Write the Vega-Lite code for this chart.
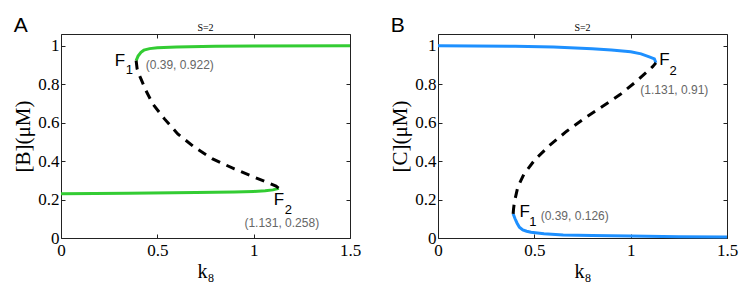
{
  "$schema": "https://vega.github.io/schema/vega-lite/v6.json",
  "background": "white",
  "padding": {"left": 12, "top": 15, "right": 5, "bottom": 5},
  "spacing": 28,
  "config": {"view": {"stroke": null}, "font": "Liberation Serif"},
  "datasets": {
    "curves": [
      {"panel": "A", "branch": "stable_hi", "k8": 0.39, "conc": 0.922},
      {"panel": "A", "branch": "stable_hi", "k8": 0.4, "conc": 0.945},
      {"panel": "A", "branch": "stable_hi", "k8": 0.415, "conc": 0.965},
      {"panel": "A", "branch": "stable_hi", "k8": 0.43, "conc": 0.976},
      {"panel": "A", "branch": "stable_hi", "k8": 0.46, "conc": 0.984},
      {"panel": "A", "branch": "stable_hi", "k8": 0.5, "conc": 0.988},
      {"panel": "A", "branch": "stable_hi", "k8": 0.6, "conc": 0.993},
      {"panel": "A", "branch": "stable_hi", "k8": 0.8, "conc": 0.996},
      {"panel": "A", "branch": "stable_hi", "k8": 1.0, "conc": 0.998},
      {"panel": "A", "branch": "stable_hi", "k8": 1.5, "conc": 0.999},
      {"panel": "A", "branch": "stable_lo", "k8": 0.0, "conc": 0.23},
      {"panel": "A", "branch": "stable_lo", "k8": 0.35, "conc": 0.232},
      {"panel": "A", "branch": "stable_lo", "k8": 0.7, "conc": 0.236},
      {"panel": "A", "branch": "stable_lo", "k8": 0.9, "conc": 0.239},
      {"panel": "A", "branch": "stable_lo", "k8": 1.0, "conc": 0.242},
      {"panel": "A", "branch": "stable_lo", "k8": 1.06, "conc": 0.245},
      {"panel": "A", "branch": "stable_lo", "k8": 1.1, "conc": 0.25},
      {"panel": "A", "branch": "stable_lo", "k8": 1.131, "conc": 0.258},
      {"panel": "A", "branch": "unstable", "k8": 0.39, "conc": 0.922},
      {"panel": "A", "branch": "unstable", "k8": 0.395, "conc": 0.88},
      {"panel": "A", "branch": "unstable", "k8": 0.405, "conc": 0.85},
      {"panel": "A", "branch": "unstable", "k8": 0.415, "conc": 0.827},
      {"panel": "A", "branch": "unstable", "k8": 0.441, "conc": 0.766},
      {"panel": "A", "branch": "unstable", "k8": 0.476, "conc": 0.697},
      {"panel": "A", "branch": "unstable", "k8": 0.537, "conc": 0.619},
      {"panel": "A", "branch": "unstable", "k8": 0.606, "conc": 0.541},
      {"panel": "A", "branch": "unstable", "k8": 0.692, "conc": 0.472},
      {"panel": "A", "branch": "unstable", "k8": 0.787, "conc": 0.411},
      {"panel": "A", "branch": "unstable", "k8": 0.9, "conc": 0.359},
      {"panel": "A", "branch": "unstable", "k8": 1.004, "conc": 0.316},
      {"panel": "A", "branch": "unstable", "k8": 1.08, "conc": 0.285},
      {"panel": "A", "branch": "unstable", "k8": 1.116, "conc": 0.27},
      {"panel": "A", "branch": "unstable", "k8": 1.131, "conc": 0.258},
      {"panel": "B", "branch": "stable_hi", "k8": 0.0, "conc": 0.999},
      {"panel": "B", "branch": "stable_hi", "k8": 0.4, "conc": 0.996},
      {"panel": "B", "branch": "stable_hi", "k8": 0.6, "conc": 0.992},
      {"panel": "B", "branch": "stable_hi", "k8": 0.8, "conc": 0.983},
      {"panel": "B", "branch": "stable_hi", "k8": 0.9, "conc": 0.977},
      {"panel": "B", "branch": "stable_hi", "k8": 1.0, "conc": 0.968},
      {"panel": "B", "branch": "stable_hi", "k8": 1.054, "conc": 0.957},
      {"panel": "B", "branch": "stable_hi", "k8": 1.1, "conc": 0.94},
      {"panel": "B", "branch": "stable_hi", "k8": 1.123, "conc": 0.931},
      {"panel": "B", "branch": "stable_hi", "k8": 1.131, "conc": 0.91},
      {"panel": "B", "branch": "stable_lo", "k8": 0.39, "conc": 0.126},
      {"panel": "B", "branch": "stable_lo", "k8": 0.4, "conc": 0.1},
      {"panel": "B", "branch": "stable_lo", "k8": 0.41, "conc": 0.078},
      {"panel": "B", "branch": "stable_lo", "k8": 0.4225, "conc": 0.056},
      {"panel": "B", "branch": "stable_lo", "k8": 0.44, "conc": 0.042},
      {"panel": "B", "branch": "stable_lo", "k8": 0.46, "conc": 0.035},
      {"panel": "B", "branch": "stable_lo", "k8": 0.483, "conc": 0.03},
      {"panel": "B", "branch": "stable_lo", "k8": 0.55, "conc": 0.022},
      {"panel": "B", "branch": "stable_lo", "k8": 0.65, "conc": 0.016},
      {"panel": "B", "branch": "stable_lo", "k8": 0.8, "conc": 0.013},
      {"panel": "B", "branch": "stable_lo", "k8": 1.0, "conc": 0.01},
      {"panel": "B", "branch": "stable_lo", "k8": 1.25, "conc": 0.007},
      {"panel": "B", "branch": "stable_lo", "k8": 1.5, "conc": 0.005},
      {"panel": "B", "branch": "unstable", "k8": 0.39, "conc": 0.126},
      {"panel": "B", "branch": "unstable", "k8": 0.392, "conc": 0.15},
      {"panel": "B", "branch": "unstable", "k8": 0.3965, "conc": 0.186},
      {"panel": "B", "branch": "unstable", "k8": 0.414, "conc": 0.264},
      {"panel": "B", "branch": "unstable", "k8": 0.445, "conc": 0.33},
      {"panel": "B", "branch": "unstable", "k8": 0.503, "conc": 0.407},
      {"panel": "B", "branch": "unstable", "k8": 0.578, "conc": 0.48},
      {"panel": "B", "branch": "unstable", "k8": 0.668, "conc": 0.555},
      {"panel": "B", "branch": "unstable", "k8": 0.763, "conc": 0.624},
      {"panel": "B", "branch": "unstable", "k8": 0.855, "conc": 0.685},
      {"panel": "B", "branch": "unstable", "k8": 0.945, "conc": 0.745},
      {"panel": "B", "branch": "unstable", "k8": 1.031, "conc": 0.815},
      {"panel": "B", "branch": "unstable", "k8": 1.114, "conc": 0.89},
      {"panel": "B", "branch": "unstable", "k8": 1.131, "conc": 0.91}
    ],
    "notes": [
      {"panel": "A", "role": "head", "k8": 0.75, "conc": 1.06, "text": "S=2"},
      {"panel": "A", "role": "label", "k8": 0.279, "conc": 0.921, "text": "F"},
      {"panel": "A", "role": "sub", "k8": 0.336, "conc": 0.874, "text": "1"},
      {"panel": "A", "role": "coord", "k8": 0.44, "conc": 0.9, "text": "(0.39, 0.922)"},
      {"panel": "A", "role": "label", "k8": 1.104, "conc": 0.197, "text": "F"},
      {"panel": "A", "role": "sub", "k8": 1.161, "conc": 0.145, "text": "2"},
      {"panel": "A", "role": "coord", "k8": 0.952, "conc": 0.078, "text": "(1.131, 0.258)"},
      {"panel": "B", "role": "head", "k8": 0.75, "conc": 1.06, "text": "S=2"},
      {"panel": "B", "role": "label", "k8": 1.149, "conc": 0.923, "text": "F"},
      {"panel": "B", "role": "sub", "k8": 1.201, "conc": 0.869, "text": "2"},
      {"panel": "B", "role": "coord", "k8": 1.05, "conc": 0.771, "text": "(1.131, 0.91)"},
      {"panel": "B", "role": "label", "k8": 0.4225, "conc": 0.134, "text": "F"},
      {"panel": "B", "role": "sub", "k8": 0.474, "conc": 0.083, "text": "1"},
      {"panel": "B", "role": "coord", "k8": 0.533, "conc": 0.115, "text": "(0.39, 0.126)"}
    ]
  },
  "hconcat": [
    {
      "title": {"text": "A", "anchor": "start", "frame": "bounds", "font": "Liberation Sans", "fontSize": 21, "fontWeight": "normal", "offset": 2, "dx": 1, "dy": 15, "color": "black"},
      "width": 289,
      "height": 204,
      "layer": [
        {
          "data": {"name": "curves"},
          "transform": [{"filter": "datum.panel === 'A' && datum.branch !== 'unstable'"}],
          "mark": {"type": "line", "color": "#33cc33", "strokeWidth": 3},
          "encoding": {
            "x": {"field": "k8", "type": "quantitative", "scale": {"domain": [0, 1.5], "nice": false, "zero": false},
              "axis": {"orient": "bottom", "values": [0, 0.5, 1, 1.5], "format": "~g", "tickSize": -4, "labelPadding": 8, "labelFlush": false, "grid": false, "title": "k₈", "titlePadding": 3, "labelFont": "Liberation Serif", "labelFontSize": 17, "labelColor": "black", "titleFont": "Liberation Serif", "titleFontSize": 20, "titleFontWeight": "normal", "titleColor": "black", "domainColor": "#222", "tickColor": "#222"}},
            "y": {"field": "conc", "type": "quantitative", "scale": {"domain": [0, 1.06], "nice": false},
              "axis": {"orient": "left", "values": [0, 0.2, 0.4, 0.6, 0.8, 1], "format": "~g", "tickSize": -4, "labelPadding": 6, "labelFlush": false, "grid": false, "title": "[B](μM)", "titlePadding": 4, "labelFont": "Liberation Serif", "labelFontSize": 17, "labelColor": "black", "titleFont": "Liberation Serif", "titleFontSize": 21, "titleFontWeight": "normal", "titleColor": "black", "domainColor": "#222", "tickColor": "#222"}},
            "detail": {"field": "branch"}
          }
        },
        {
          "data": {"name": "curves"},
          "transform": [{"filter": "datum.panel === 'A' && datum.branch === 'unstable'"}],
          "mark": {"type": "line", "color": "black", "strokeWidth": 3, "strokeDash": [9, 7]},
          "encoding": {
            "x": {"field": "k8", "type": "quantitative", "scale": {"domain": [0, 1.5], "nice": false, "zero": false}, "axis": null},
            "y": {"field": "conc", "type": "quantitative", "scale": {"domain": [0, 1.06], "nice": false}, "axis": null}
          }
        },
        {
          "mark": {"type": "rule", "color": "#777", "strokeWidth": 1.5, "strokeDash": [1.5, 1.5]},
          "encoding": {"x": {"datum": 0.37, "type": "quantitative", "scale": {"domain": [0, 1.5], "nice": false, "zero": false}, "axis": null}}
        },
        {
          "data": {"name": "notes"},
          "transform": [{"filter": "datum.panel === 'A' && datum.role === 'head'"}],
          "mark": {"type": "text", "font": "Liberation Serif", "fontSize": 10, "align": "center", "baseline": "alphabetic", "dy": -3, "color": "black"},
          "encoding": {
            "x": {"field": "k8", "type": "quantitative", "scale": {"domain": [0, 1.5], "nice": false, "zero": false}, "axis": null},
            "y": {"field": "conc", "type": "quantitative", "scale": {"domain": [0, 1.06], "nice": false}, "axis": null},
            "text": {"field": "text"}
          }
        },
        {
          "data": {"name": "notes"},
          "transform": [{"filter": "datum.panel === 'A' && datum.role === 'label'"}],
          "mark": {"type": "text", "font": "Liberation Sans", "fontSize": 17, "align": "left", "baseline": "middle", "color": "black"},
          "encoding": {
            "x": {"field": "k8", "type": "quantitative", "scale": {"domain": [0, 1.5], "nice": false, "zero": false}, "axis": null},
            "y": {"field": "conc", "type": "quantitative", "scale": {"domain": [0, 1.06], "nice": false}, "axis": null},
            "text": {"field": "text"}
          }
        },
        {
          "data": {"name": "notes"},
          "transform": [{"filter": "datum.panel === 'A' && datum.role === 'sub'"}],
          "mark": {"type": "text", "font": "Liberation Sans", "fontSize": 13, "align": "left", "baseline": "middle", "color": "black"},
          "encoding": {
            "x": {"field": "k8", "type": "quantitative", "scale": {"domain": [0, 1.5], "nice": false, "zero": false}, "axis": null},
            "y": {"field": "conc", "type": "quantitative", "scale": {"domain": [0, 1.06], "nice": false}, "axis": null},
            "text": {"field": "text"}
          }
        },
        {
          "data": {"name": "notes"},
          "transform": [{"filter": "datum.panel === 'A' && datum.role === 'coord'"}],
          "mark": {"type": "text", "font": "Liberation Sans", "fontSize": 12, "align": "left", "baseline": "middle", "color": "#666"},
          "encoding": {
            "x": {"field": "k8", "type": "quantitative", "scale": {"domain": [0, 1.5], "nice": false, "zero": false}, "axis": null},
            "y": {"field": "conc", "type": "quantitative", "scale": {"domain": [0, 1.06], "nice": false}, "axis": null},
            "text": {"field": "text"}
          }
        },
        {
          "data": {"name": "curves"},
          "transform": [{"filter": "datum.panel === 'A'"}],
          "mark": {"type": "point", "opacity": 0},
          "encoding": {
            "x": {"field": "k8", "type": "quantitative", "scale": {"domain": [0, 1.5], "nice": false, "zero": false},
              "axis": {"orient": "top", "values": [0, 0.5, 1, 1.5], "tickSize": -4, "labels": false, "grid": false, "title": null, "domainColor": "#222", "tickColor": "#222"}},
            "y": {"field": "conc", "type": "quantitative", "scale": {"domain": [0, 1.06], "nice": false},
              "axis": {"orient": "right", "values": [0, 0.2, 0.4, 0.6, 0.8, 1], "tickSize": -4, "labels": false, "grid": false, "title": null, "domainColor": "#222", "tickColor": "#222"}}
          }
        }
      ],
      "resolve": {"axis": {"x": "independent", "y": "independent"}}
    },
    {
      "title": {"text": "B", "anchor": "start", "frame": "bounds", "font": "Liberation Sans", "fontSize": 21, "fontWeight": "normal", "offset": 2, "dx": 1, "dy": 15, "color": "black"},
      "width": 289,
      "height": 204,
      "layer": [
        {
          "data": {"name": "curves"},
          "transform": [{"filter": "datum.panel === 'B' && datum.branch !== 'unstable'"}],
          "mark": {"type": "line", "color": "#1e90ff", "strokeWidth": 3},
          "encoding": {
            "x": {"field": "k8", "type": "quantitative", "scale": {"domain": [0, 1.5], "nice": false, "zero": false},
              "axis": {"orient": "bottom", "values": [0, 0.5, 1, 1.5], "format": "~g", "tickSize": -4, "labelPadding": 8, "labelFlush": false, "grid": false, "title": "k₈", "titlePadding": 3, "labelFont": "Liberation Serif", "labelFontSize": 17, "labelColor": "black", "titleFont": "Liberation Serif", "titleFontSize": 20, "titleFontWeight": "normal", "titleColor": "black", "domainColor": "#222", "tickColor": "#222"}},
            "y": {"field": "conc", "type": "quantitative", "scale": {"domain": [0, 1.06], "nice": false},
              "axis": {"orient": "left", "values": [0, 0.2, 0.4, 0.6, 0.8, 1], "format": "~g", "tickSize": -4, "labelPadding": 6, "labelFlush": false, "grid": false, "title": "[C](μM)", "titlePadding": 4, "labelFont": "Liberation Serif", "labelFontSize": 17, "labelColor": "black", "titleFont": "Liberation Serif", "titleFontSize": 21, "titleFontWeight": "normal", "titleColor": "black", "domainColor": "#222", "tickColor": "#222"}},
            "detail": {"field": "branch"}
          }
        },
        {
          "data": {"name": "curves"},
          "transform": [{"filter": "datum.panel === 'B' && datum.branch === 'unstable'"}],
          "mark": {"type": "line", "color": "black", "strokeWidth": 3, "strokeDash": [9, 7]},
          "encoding": {
            "x": {"field": "k8", "type": "quantitative", "scale": {"domain": [0, 1.5], "nice": false, "zero": false}, "axis": null},
            "y": {"field": "conc", "type": "quantitative", "scale": {"domain": [0, 1.06], "nice": false}, "axis": null}
          }
        },
        {
          "mark": {"type": "rule", "color": "#777", "strokeWidth": 1.5, "strokeDash": [1.5, 1.5]},
          "encoding": {"x": {"datum": 0.37, "type": "quantitative", "scale": {"domain": [0, 1.5], "nice": false, "zero": false}, "axis": null}}
        },
        {
          "data": {"name": "notes"},
          "transform": [{"filter": "datum.panel === 'B' && datum.role === 'head'"}],
          "mark": {"type": "text", "font": "Liberation Serif", "fontSize": 10, "align": "center", "baseline": "alphabetic", "dy": -3, "color": "black"},
          "encoding": {
            "x": {"field": "k8", "type": "quantitative", "scale": {"domain": [0, 1.5], "nice": false, "zero": false}, "axis": null},
            "y": {"field": "conc", "type": "quantitative", "scale": {"domain": [0, 1.06], "nice": false}, "axis": null},
            "text": {"field": "text"}
          }
        },
        {
          "data": {"name": "notes"},
          "transform": [{"filter": "datum.panel === 'B' && datum.role === 'label'"}],
          "mark": {"type": "text", "font": "Liberation Sans", "fontSize": 17, "align": "left", "baseline": "middle", "color": "black"},
          "encoding": {
            "x": {"field": "k8", "type": "quantitative", "scale": {"domain": [0, 1.5], "nice": false, "zero": false}, "axis": null},
            "y": {"field": "conc", "type": "quantitative", "scale": {"domain": [0, 1.06], "nice": false}, "axis": null},
            "text": {"field": "text"}
          }
        },
        {
          "data": {"name": "notes"},
          "transform": [{"filter": "datum.panel === 'B' && datum.role === 'sub'"}],
          "mark": {"type": "text", "font": "Liberation Sans", "fontSize": 13, "align": "left", "baseline": "middle", "color": "black"},
          "encoding": {
            "x": {"field": "k8", "type": "quantitative", "scale": {"domain": [0, 1.5], "nice": false, "zero": false}, "axis": null},
            "y": {"field": "conc", "type": "quantitative", "scale": {"domain": [0, 1.06], "nice": false}, "axis": null},
            "text": {"field": "text"}
          }
        },
        {
          "data": {"name": "notes"},
          "transform": [{"filter": "datum.panel === 'B' && datum.role === 'coord'"}],
          "mark": {"type": "text", "font": "Liberation Sans", "fontSize": 12, "align": "left", "baseline": "middle", "color": "#666"},
          "encoding": {
            "x": {"field": "k8", "type": "quantitative", "scale": {"domain": [0, 1.5], "nice": false, "zero": false}, "axis": null},
            "y": {"field": "conc", "type": "quantitative", "scale": {"domain": [0, 1.06], "nice": false}, "axis": null},
            "text": {"field": "text"}
          }
        },
        {
          "data": {"name": "curves"},
          "transform": [{"filter": "datum.panel === 'B'"}],
          "mark": {"type": "point", "opacity": 0},
          "encoding": {
            "x": {"field": "k8", "type": "quantitative", "scale": {"domain": [0, 1.5], "nice": false, "zero": false},
              "axis": {"orient": "top", "values": [0, 0.5, 1, 1.5], "tickSize": -4, "labels": false, "grid": false, "title": null, "domainColor": "#222", "tickColor": "#222"}},
            "y": {"field": "conc", "type": "quantitative", "scale": {"domain": [0, 1.06], "nice": false},
              "axis": {"orient": "right", "values": [0, 0.2, 0.4, 0.6, 0.8, 1], "tickSize": -4, "labels": false, "grid": false, "title": null, "domainColor": "#222", "tickColor": "#222"}}
          }
        }
      ],
      "resolve": {"axis": {"x": "independent", "y": "independent"}}
    }
  ]
}
